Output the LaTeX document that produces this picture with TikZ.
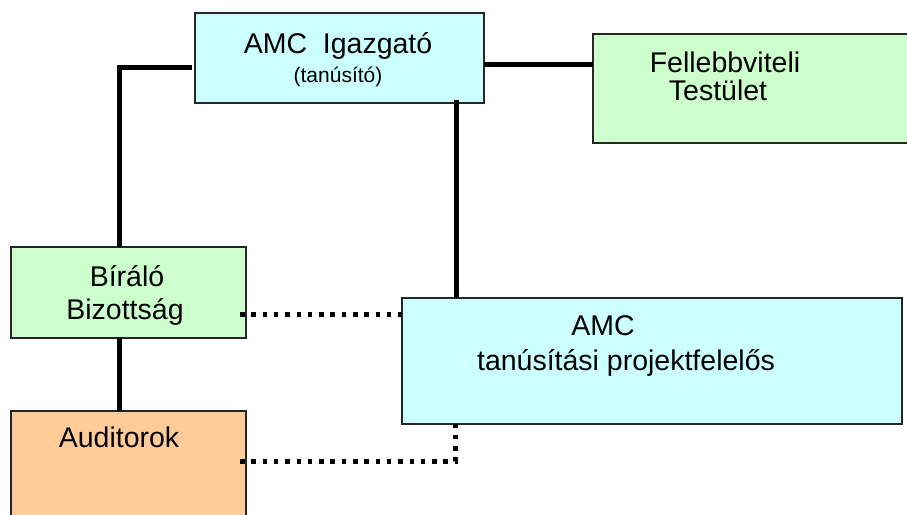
\documentclass[tikz,border=0pt]{standalone}
\usepackage{fontspec}
\setmainfont{Liberation Sans}
\definecolor{boxcyan}{HTML}{CCFFFF}
\definecolor{boxgreen}{HTML}{CCFFCC}
\definecolor{boxorange}{HTML}{FFCC99}
\begin{document}
\begin{tikzpicture}[x=1pt,y=-1pt,
  box/.style={draw=black!85, line width=1.5pt, rectangle, inner sep=0pt, outer sep=0pt, anchor=north west},
  conn/.style={line width=5pt, line cap=butt},
  dotconn/.style={line width=5pt, dash pattern=on 4.5pt off 6.8pt},
  lbl/.style={anchor=base, inner sep=0pt, font=\fontsize{28.5}{34}\selectfont},
  slbl/.style={anchor=base, inner sep=0pt, font=\fontsize{21}{25}\selectfont}]
\useasboundingbox (0,0) rectangle (907,514);
\clip (0,0) rectangle (907,514);
% boxes
\node[box, fill=boxcyan, minimum width=289pt, minimum height=90pt] (top) at (195,13) {};
\node[box, fill=boxgreen, minimum width=317pt, minimum height=109pt] (fell) at (593,34) {};
\node[box, fill=boxgreen, minimum width=235pt, minimum height=91pt] (bir) at (11,247) {};
\node[box, fill=boxorange, minimum width=235pt, minimum height=119pt] (aud) at (11,411) {};
\node[box, fill=boxcyan, minimum width=500pt, minimum height=126pt] (proj) at (402,298) {};
% labels
\node[lbl] (t1) at (338,53) {AMC\ \ Igazgató};
\node[slbl] (t2) at (338,82) {(tanúsító)};
\node[lbl] (f1) at (725,72) {Fellebbviteli};
\node[lbl] (f2) at (718,100) {Testület};
\node[lbl] (b1) at (127,286) {Bíráló};
\node[lbl] (b2) at (125,319) {Bizottság};
\node[lbl] (a1) at (119,447) {Auditorok};
\node[lbl] (p1) at (603,335) {AMC};
\node[lbl] (p2) at (626,370) {tanúsítási projektfelelős};
% connector helper coordinates
\coordinate (k1) at (119.5,67);
\coordinate (k1s) at (192,67);
\coordinate (k2) at (0,64.5);
\coordinate (k3) at (456,100);
\coordinate (k4) at (240,314.5);
\coordinate (k5) at (240,461);
\coordinate (k6) at (455.5,461);
% solid connectors
\draw[conn] (k1s) -- (k1) -- (k1 |- bir.north);
\draw[conn] (top.east |- k2) -- (fell.west |- k2);
\draw[conn] (k3) -- (k3 |- proj.north);
\draw[conn] (k1 |- bir.south) -- (k1 |- aud.north);
% dotted connectors
\draw[dotconn] (k4) -- (k4 -| proj.west);
\draw[dotconn] (k5) -- (k6) -- (k6 |- proj.south);
\end{tikzpicture}
\end{document}
